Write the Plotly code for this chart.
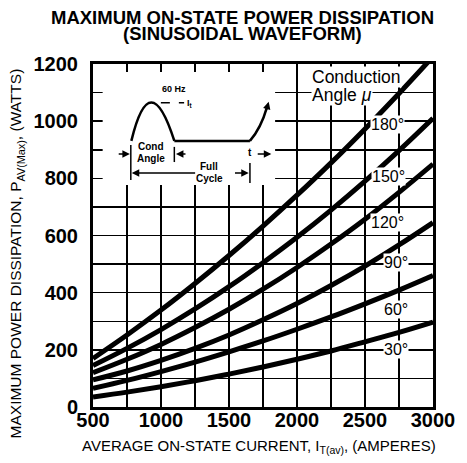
import plotly.graph_objects as go

# ---- data ----
current_a = [500, 750, 1000, 1250, 1500, 1750, 2000, 2250, 2500, 2750, 3000]
p_30 = [35, 52, 71, 92, 115, 140, 167, 196, 228, 261, 297]
p_60 = [65, 93, 124, 157, 193, 231, 272, 315, 361, 409, 460]
p_90 = [95, 126, 163, 205, 252, 305, 362, 425, 493, 567, 645]
p_120 = [120, 167, 219, 278, 342, 412, 488, 570, 657, 751, 850]
p_150 = [145, 205, 271, 343, 421, 505, 594, 689, 790, 897, 1010]
p_180 = [170, 252, 339, 432, 530, 633, 741, 854, 973, 1097, 1226]

series = [("30°", p_30), ("60°", p_60), ("90°", p_90),
          ("120°", p_120), ("150°", p_150), ("180°", p_180)]

# label positions (current, power)
label_pos = {"180°": (2665, 988), "150°": (2672, 805), "120°": (2665, 647),
             "90°": (2729, 504), "60°": (2729, 340), "30°": (2729, 200)}

x_ticks = [500, 1000, 1500, 2000, 2500, 3000]
y_ticks = [0, 200, 400, 600, 800, 1000, 1200]

FONT = "Liberation Sans, Arial, Helvetica, sans-serif"

fig = go.Figure()
for name, vals in series:
    fig.add_trace(go.Scatter(x=current_a, y=vals, mode="lines", name=name,
                             line=dict(color="black", width=5, shape="spline"),
                             showlegend=False, hoverinfo="skip"))


def txt(x, y, text, size, xref="x", yref="y", xanchor="center", bg=None, angle=0):
    d = dict(x=x, y=y, xref=xref, yref=yref, text=text, showarrow=False,
             xanchor=xanchor, yanchor="middle", textangle=angle,
             font=dict(family=FONT, size=size, color="black"))
    if bg:
        d.update(bgcolor=bg, borderpad=0)
    return d


annotations = []
for name, (xi, yi) in label_pos.items():
    annotations.append(txt(xi, yi, name, 16, bg="white"))

annotations += [
    txt(2102, 1153, "Conduction", 17.5, xanchor="left", bg="white"),
    txt(2102, 1092, "Angle <i>μ</i>", 17.5, xanchor="left", bg="white"),
    # titles (paper coords relative to the plot area)
    txt(0.439, (407 - 18) / 343, "<b>MAXIMUM ON-STATE POWER DISSIPATION</b>", 18.5,
        xref="paper", yref="paper"),
    txt(0.439, (407 - 33) / 343, "<b>(SINUSOIDAL WAVEFORM)</b>", 18.5,
        xref="paper", yref="paper"),
    txt((15 - 93) / 351, (407 - 253) / 343,
        "MAXIMUM POWER DISSIPATION, P<sub>AV(Max)</sub>, (WATTS)", 15.5,
        xref="paper", yref="paper", angle=-90),
    txt((264 - 93) / 351, (407 - 446) / 343,
        "AVERAGE ON-STATE CURRENT, I<sub>T(av)</sub>, (AMPERES)", 15,
        xref="paper", yref="paper"),
    # inset texts
    txt(1098, 1113, "<b>60 Hz</b>", 9),
    txt(1175, 1062, "<b>I<sub>t</sub></b>", 9, xanchor="left"),
    txt(927, 910, "<b>Cond</b>", 10),
    txt(927, 871, "<b>Angle</b>", 10),
    txt(1355, 840, "<b>Full</b>", 10),
    txt(1355, 801, "<b>Cycle</b>", 10),
    txt(1654, 889, "<b>t</b>", 10),
]


def arrow(x_from, y_from, x_to, y_to, head=2):
    return dict(x=x_to, y=y_to, ax=x_from, ay=y_from, xref="x", yref="y",
                axref="x", ayref="y", text="", showarrow=True, arrowhead=head,
                arrowsize=1, arrowwidth=1.5, arrowcolor="black")


annotations += [
    arrow(678, 885, 771, 885),
    arrow(1191, 885, 1110, 885),
    arrow(1700, 885, 1811, 885),
    arrow(1262, 819, 785, 819),
    arrow(1533, 819, 1645, 819),
    arrow(1770, 1030, 1792, 1068),
]

shapes = [
    dict(type="rect", xref="x", yref="y", x0=571, x1=1839, y0=777, y1=1172,
         fillcolor="white", line=dict(width=0), layer="between"),
    dict(type="path", xref="x", yref="y", path="M 782,931 Q 918,1200 1098,931",
         line=dict(color="black", width=2.5)),
    dict(type="line", xref="x", yref="y", x0=1098, x1=1654, y0=931, y1=931,
         line=dict(color="black", width=2.5)),
    dict(type="path", xref="x", yref="y", path="M 1654,931 Q 1735,975 1780,1050",
         line=dict(color="black", width=2.5)),
    dict(type="line", xref="x", yref="y", x0=999, x1=1170, y0=1064, y1=1064,
         line=dict(color="black", width=1.5, dash="dash")),
    dict(type="line", xref="x", yref="y", x0=778, x1=778, y0=794, y1=917,
         line=dict(color="black", width=1.5)),
    dict(type="line", xref="x", yref="y", x0=1098, x1=1098, y0=857, y1=910,
         line=dict(color="black", width=1.5)),
    dict(type="line", xref="x", yref="y", x0=1654, x1=1654, y0=784, y1=854,
         line=dict(color="black", width=1.5)),
]

fig.update_layout(
    width=467, height=463,
    margin=dict(l=93, r=23, t=64, b=56),
    paper_bgcolor="white", plot_bgcolor="white",
    annotations=annotations, shapes=shapes,
    font=dict(family=FONT, color="black"),
)
fig.update_xaxes(range=[500, 3000], tickvals=x_ticks, ticktext=[str(v) for v in x_ticks],
                 showgrid=True, gridcolor="black", gridwidth=1.5,
                 minor=dict(dtick=250, showgrid=True, gridcolor="black", gridwidth=1.5),
                 showline=True, linecolor="black", linewidth=3, mirror=True,
                 ticks="", zeroline=False, ticklabelstandoff=-7,
                 tickfont=dict(family=FONT, size=20, color="black", weight="bold"))
fig.update_yaxes(range=[0, 1200], tickvals=y_ticks, ticktext=[str(v) for v in y_ticks],
                 showgrid=True, gridcolor="black", gridwidth=1.5,
                 minor=dict(dtick=100, showgrid=True, gridcolor="black", gridwidth=1.5),
                 showline=True, linecolor="black", linewidth=3, mirror=True,
                 ticks="", zeroline=False, ticklabelstandoff=8,
                 tickfont=dict(family=FONT, size=20, color="black", weight="bold"))

# remove the default page margin so the figure sits at the window origin
fig.write_html("out.html", config={"displayModeBar": False, "staticPlot": True},
               post_script="document.body.style.margin='0';document.body.style.overflow='hidden';")
